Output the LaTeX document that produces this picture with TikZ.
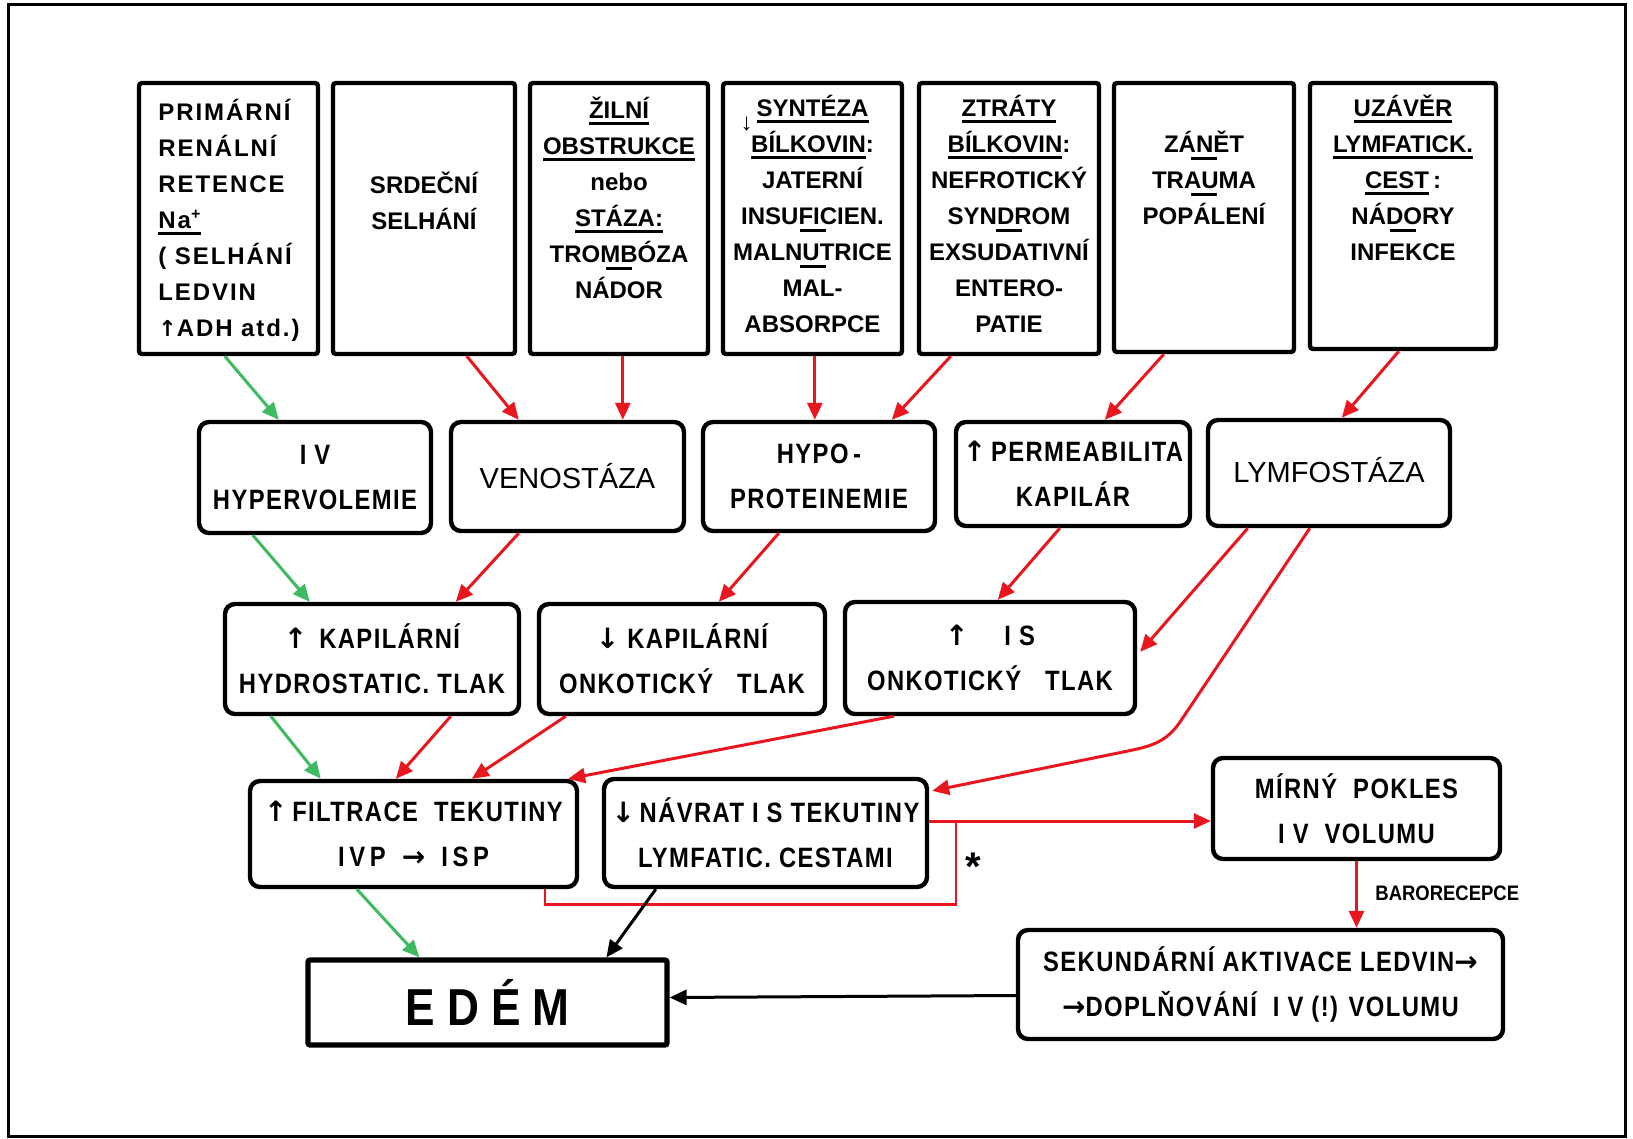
\documentclass[tikz,border=0pt]{standalone}
\usepackage{fontspec}
\setmainfont{Liberation Sans}
\newfontfamily\condb[FakeStretch=0.85,LetterSpace=5]{Liberation Sans}
\newfontfamily\condn[FakeStretch=0.88]{Liberation Sans}
\newfontfamily\spacedb[LetterSpace=8]{Liberation Sans}
\newfontfamily\arrfont{DejaVu Sans}
\newcommand\ua{{\arrfont\bfseries ↑}}
\newcommand\da{{\arrfont\bfseries ↓}}
\newcommand\ra{{\arrfont\bfseries →}}
\usetikzlibrary{arrows.meta,calc}
\definecolor{myred}{RGB}{232,22,30}
\definecolor{mygreen}{RGB}{62,186,96}
\newsavebox\ulbox
\newcommand\ul[1]{\sbox\ulbox{#1}\rlap{\raisebox{-3.2pt}[0pt][0pt]{\rule{\wd\ulbox}{1.3pt}}}\usebox\ulbox}
\newcommand\sepl[1]{\sbox\ulbox{#1}\rlap{\makebox[\wd\ulbox]{\raisebox{-3.8pt}[0pt][0pt]{\rule{13pt}{1.3pt}}}}\usebox\ulbox}
\newcommand\fst{\rule{0pt}{12pt}}
\tikzset{
  sz/.style 2 args={minimum width=#1*0.5pt, minimum height=#2*0.5pt},
  topbox/.style={draw, line width=2.2pt, rounded corners=1.5pt, inner sep=0pt},
  toptext/.style={inner sep=0pt, align=center, font=\bfseries\fontsize{12}{18}\selectfont},
  midbox/.style={draw, line width=2.2pt, rounded corners=5pt, inner sep=0pt, align=center,
    font=\condb\bfseries\fontsize{14}{22.5}\selectfont},
  plainfont/.style={font=\fontsize{14.5}{17}\selectfont},
  rarrow/.style={draw=myred, line width=1.5pt, -{Triangle[length=8.5pt,width=7.5pt]}},
  garrow/.style={draw=mygreen, line width=1.5pt, -{Triangle[length=8.5pt,width=7.5pt]}},
  karrow/.style={draw=black, line width=1.5pt, -{Triangle[length=8.5pt,width=7.5pt]}},
  rline/.style={draw=myred, line width=1.3pt},
}
\begin{document}
\begin{tikzpicture}[x=0.5pt,y=-0.5pt]
\useasboundingbox (0,0) rectangle (1633,1139);
\draw[line width=1.5pt] (8,5) rectangle (1625,1136);

% top row
\node[topbox, sz={179}{271}] (B1) at (228.5,218.5) {};
\node[topbox, sz={182}{271}] (B2) at (424,218.5) {};
\node[topbox, sz={178}{271}] (B3) at (619,218.5) {};
\node[topbox, sz={179}{271}] (B4) at (812.5,218.5) {};
\node[topbox, sz={180}{271}] (B5) at (1009,218.5) {};
\node[topbox, sz={180}{269}] (B6) at (1204,217.5) {};
\node[topbox, sz={186}{266}] (B7) at (1403,216) {};

\node[toptext, anchor=north west, align=left, font=\spacedb\bfseries\fontsize{12}{18}\selectfont] (t1) at (158,96)
  {\fst PRIMÁRNÍ\\RENÁLNÍ\\RETENCE\\\ul{Na\textsuperscript{+}}\\( SELHÁNÍ\\LEDVIN\\{\arrfont\bfseries\fontsize{11}{18}\selectfont ↑}ADH atd.)};
\node[toptext, anchor=north] (t2) at (424,169) {\fst SRDEČNÍ\\SELHÁNÍ};
\node[toptext, anchor=north] (t3) at (619,94)
  {\fst\ul{ŽILNÍ}\\\ul{OBSTRUKCE}\\nebo\\\ul{STÁZA:}\\\sepl{TROMBÓZA}\\NÁDOR};
\node[toptext, anchor=north] (t4) at (812.5,92)
  {\fst\llap{\raisebox{-7pt}{↓}\,}\ul{SYNTÉZA}\\\ul{BÍLKOVIN}:\\JATERNÍ\\\sepl{INSUFICIEN.}\\\sepl{MALNUTRICE}\\MAL-\\ABSORPCE};
\node[toptext, anchor=north] (t5) at (1009,92)
  {\fst\ul{ZTRÁTY}\\\ul{BÍLKOVIN}:\\NEFROTICKÝ\\\sepl{SYNDROM}\\EXSUDATIVNÍ\\ENTERO-\\PATIE};
\node[toptext, anchor=north] (t6) at (1204,128) {\fst\sepl{ZÁNĚT}\\\sepl{TRAUMA}\\POPÁLENÍ};
\node[toptext, anchor=north] (t7) at (1403,92)
  {\fst\ul{UZÁVĚR}\\\ul{LYMFATICK.}\\\ul{CEST}\,:\\\sepl{NÁDORY}\\INFEKCE};

% second row
\node[midbox, sz={232}{111}] (M1) at (315,477.5) {I V\\HYPERVOLEMIE};
\node[midbox, plainfont, sz={233}{109}] (M2) at (567.5,476.5) {VENOSTÁZA};
\node[midbox, sz={232}{109}] (M3) at (819,476.5) {HYPO\,-\\PROTEINEMIE};
\node[midbox, sz={234}{104}] (M4) at (1073,474) {\ua\,PERMEABILITA\\KAPILÁR};
\node[midbox, plainfont, sz={242}{106}] (M5) at (1329,473) {\raisebox{3pt}{LYMFOSTÁZA}};

% third row
\node[midbox, sz={294}{110}] (T1) at (372,659) {\ua\hspace{6pt}KAPILÁRNÍ\\HYDROSTATIC. TLAK};
\node[midbox, sz={286}{110}] (T2) at (682,659) {\da\hspace{4pt}KAPILÁRNÍ\\ONKOTICKÝ\ \ \ TLAK};
\node[midbox, sz={290}{112}] (T3) at (990,658) {\ua\hspace{18pt}I S\hspace{10pt}\\ONKOTICKÝ\ \ \ TLAK};

% fourth row
\node[midbox, sz={327}{106}] (F1) at (413.5,834) {\ua\,FILTRACE\ \ TEKUTINY\\I\,V\,P\ \ \ra\ \ I\,S\,P};
\node[midbox, sz={323}{108}] (F2) at (765.5,833) {\da\,NÁVRAT I S TEKUTINY\\LYMFATIC. CESTAMI};
\node[midbox, sz={287}{101}] (F3) at (1356.5,808.5) {MÍRNÝ\ \ POKLES\\I V\ \ VOLUMU};

% bottom
\node[draw, line width=2.6pt, rounded corners=1pt, sz={359}{85}, inner sep=0pt,
  font=\condb\bfseries\fontsize{26}{26}\selectfont] (E) at (487.5,1002.5)
  {E\hspace{6pt}D\hspace{6pt}É\hspace{6pt}M};
\node[midbox, sz={485}{109}] (S) at (1260.5,984.5)
  {SEKUNDÁRNÍ AKTIVACE LEDVIN\ra\\\ra DOPLŇOVÁNÍ\ \ I V (!) VOLUMU};

\node[anchor=base west, inner sep=0pt, font=\condn\bfseries\fontsize{10.5}{12}\selectfont] (baro) at (1375,900) {BARORECEPCE};
\node[anchor=north, inner sep=0pt, font=\bfseries\fontsize{20}{20}\selectfont] (ast) at (973,853) {*};

% connectors top -> second
\draw[garrow] ($(B1.south west)+(88,0)$) -- ($(M1.north west)+(82,0)$);
\draw[rarrow] ($(B2.south west)+(136,0)$) -- ($(M2.north west)+(70,0)$);
\draw[rarrow] ($(B3.south west)+(95,0)$) -- ($(M2.north west)+(174,0)$);
\draw[rarrow] ($(B4.south west)+(94,0)$) -- ($(M3.north west)+(114,0)$);
\draw[rarrow] ($(B5.south west)+(34,0)$) -- ($(M3.north west)+(191,0)$);
\draw[rarrow] ($(B6.south west)+(52,0)$) -- ($(M4.north west)+(151,0)$);
\draw[rarrow] ($(B7.south west)+(91,0)$) -- ($(M5.north west)+(136,0)$);

% second -> third
\draw[garrow] ($(M1.south west)+(56,0)$) -- ($(T1.north west)+(87,0)$);
\draw[rarrow] ($(M2.south west)+(70,0)$) -- ($(T1.north west)+(233,0)$);
\draw[rarrow] ($(M3.south west)+(78,0)$) -- ($(T2.north west)+(182,0)$);
\draw[rarrow] ($(M4.south west)+(106,0)$) -- ($(T3.north west)+(155,0)$);
\draw[rarrow] ($(M5.south west)+(42,0)$) -- ($(T3.north east)+(3,52)$);
\coordinate (c1) at (1180,722);
\coordinate (c2) at (1128,751);
\draw[rarrow] ($(M5.south west)+(104,0)$) -- (c1) .. controls (1166,742) and (1152,746) .. (c2) -- ($(F2.north east)+(3,14)$);

% third -> fourth
\draw[garrow] ($(T1.south west)+(48,0)$) -- ($(F1.north west)+(73,0)$);
\draw[rarrow] ($(T1.south west)+(228,0)$) -- ($(F1.north west)+(148,0)$);
\draw[rarrow] ($(T2.south west)+(29,0)$) -- ($(F1.north west)+(224,0)$);
\draw[rarrow] ($(T3.south west)+(51,0)$) -- ($(F1.north east)+(-11,0)$);

% fourth row connections
\coordinate (J) at (956,821);
\draw[rarrow] (F2.east |- J) -- (F3.west |- J);
\draw[rline] ($(F1.south west)+(297,0)$) -- ++(0,15) -| (J);
\draw[rarrow] (F3.south) -- (F3.south |- S.north);

% to EDEM
\draw[garrow] ($(F1.south west)+(109,0)$) -- ($(E.north west)+(114,0)$);
\draw[karrow] ($(F2.south west)+(54,0)$) -- ($(E.north west)+(301,0)$);
\draw[karrow] ($(S.west)+(0,11)$) -- ($(E.east)+(0,-5)$);
\end{tikzpicture}
\end{document}
